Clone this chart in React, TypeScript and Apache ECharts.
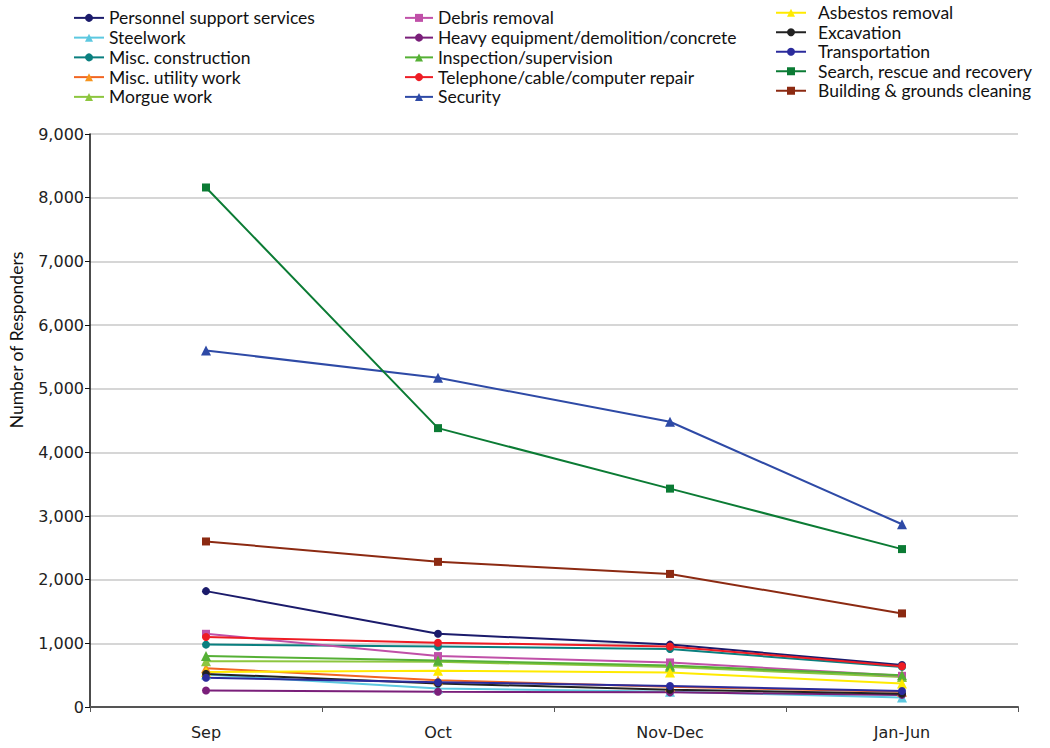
import React, { useEffect, useRef } from "react";
import * as echarts from "echarts";

const categories = ["Sep", "Oct", "Nov-Dec", "Jan-Jun"];
const yTicks = [0, 1000, 2000, 3000, 4000, 5000, 6000, 7000, 8000, 9000];

const personnel = [1820, 1150, 980, 660];
const steelwork = [510, 290, 240, 150];
const miscConstruction = [980, 950, 910, 630];
const miscUtility = [610, 420, 320, 240];
const morgue = [720, 710, 630, 470];
const debris = [1150, 800, 700, 490];
const heavy = [260, 240, 230, 190];
const inspection = [800, 730, 650, 500];
const telephone = [1100, 1010, 950, 640];
const security = [5600, 5170, 4480, 2870];
const asbestos = [550, 570, 540, 370];
const excavation = [520, 370, 270, 210];
const transportation = [460, 390, 330, 250];
const search = [8160, 4380, 3430, 2480];
const building = [2600, 2280, 2090, 1470];

const legendCol1 = ["Personnel support services", "Steelwork", "Misc. construction", "Misc. utility work", "Morgue work"];
const legendCol2 = ["Debris removal", "Heavy equipment/demolition/concrete", "Inspection/supervision", "Telephone/cable/computer repair", "Security"];
const legendCol3 = ["Asbestos removal", "Excavation", "Transportation", "Search, rescue and recovery", "Building & grounds cleaning"];

const seriesDefs = [
  { name: "Personnel support services", data: personnel, line: "#1b1b6b", fill: "#1b1b6b", symbol: "circle" },
  { name: "Steelwork", data: steelwork, line: "#5cc8e0", fill: "#5cc8e0", symbol: "triangle" },
  { name: "Misc. construction", data: miscConstruction, line: "#0a7f7f", fill: "#0a7f7f", symbol: "circle" },
  { name: "Misc. utility work", data: miscUtility, line: "#f26522", fill: "#f7941d", symbol: "triangle" },
  { name: "Morgue work", data: morgue, line: "#8dc63f", fill: "#8dc63f", symbol: "triangle" },
  { name: "Debris removal", data: debris, line: "#c050a8", fill: "#c050a8", symbol: "rect" },
  { name: "Heavy equipment/demolition/concrete", data: heavy, line: "#7a1f7a", fill: "#7a1f7a", symbol: "circle" },
  { name: "Inspection/supervision", data: inspection, line: "#55b035", fill: "#55b035", symbol: "triangle" },
  { name: "Telephone/cable/computer repair", data: telephone, line: "#ee1c24", fill: "#ee1c24", symbol: "circle" },
  { name: "Security", data: security, line: "#2e4aa6", fill: "#2e4aa6", symbol: "triangle" },
  { name: "Asbestos removal", data: asbestos, line: "#ffea00", fill: "#ffea00", symbol: "triangle" },
  { name: "Excavation", data: excavation, line: "#222222", fill: "#222222", symbol: "circle" },
  { name: "Transportation", data: transportation, line: "#2b2b9c", fill: "#2b2b9c", symbol: "circle" },
  { name: "Search, rescue and recovery", data: search, line: "#0b7b34", fill: "#0b7b34", symbol: "rect" },
  { name: "Building & grounds cleaning", data: building, line: "#8c2a12", fill: "#8c2a12", symbol: "rect" },
];

const legendFont = "Lato, 'Open Sans', sans-serif";
const axisFont = "'DejaVu Sans', Verdana, sans-serif";

export default function App() {
  const ref = useRef<HTMLDivElement>(null);
  useEffect(() => {
    if (!ref.current) return;
    const chart = echarts.init(ref.current, undefined, { renderer: "svg" });
    const legendBase = {
      orient: "vertical",
      itemHeight: 10,
      itemGap: 0,
      padding: 0,
      selectedMode: false,
    };
    chart.setOption({
      animation: false,
      backgroundColor: "#ffffff",
      legend: [
        {
          ...legendBase, data: legendCol1, left: 73, top: 8, itemWidth: 30,
          textStyle: { fontFamily: legendFont, fontSize: 17.5, color: "#111", lineHeight: 19.75 },
        },
        {
          ...legendBase, data: legendCol2, left: 404, top: 8, itemWidth: 28,
          textStyle: { fontFamily: legendFont, fontSize: 17.5, color: "#111", lineHeight: 19.75 },
        },
        {
          ...legendBase, data: legendCol3, left: 775, top: 3, itemWidth: 30,
          textStyle: { fontFamily: legendFont, fontSize: 17.5, color: "#111", lineHeight: 19.5, padding: [0, 0, 0, 7] },
        },
      ],
      grid: { left: 90, right: 32, top: 134, bottom: 41, containLabel: false },
      xAxis: {
        type: "category",
        data: categories,
        boundaryGap: true,
        axisLine: { lineStyle: { color: "#555", width: 2 } },
        axisTick: { show: true, length: 5, lineStyle: { color: "#555" } },
        axisLabel: { fontFamily: axisFont, fontSize: 16, color: "#222", margin: 17 },
        splitLine: { show: false },
      },
      yAxis: {
        type: "value",
        min: yTicks[0],
        max: yTicks[yTicks.length - 1],
        interval: 1000,
        axisLine: { show: true, lineStyle: { color: "#111", width: 1.5 } },
        axisTick: { show: true, length: 5, lineStyle: { color: "#111" } },
        axisLabel: {
          fontFamily: axisFont,
          fontSize: 16,
          color: "#222",
          margin: 6,
          formatter: (v: number) => v.toLocaleString("en-US"),
        },
        splitLine: { show: true, lineStyle: { color: "#c8c8c8", width: 1.5 } },
      },
      graphic: [
        {
          type: "text",
          x: 16,
          y: 340,
          rotation: Math.PI / 2,
          style: {
            text: "Number of Responders",
            fontFamily: legendFont,
            fontSize: 17.5,
            fill: "#111",
            textAlign: "center",
            textVerticalAlign: "middle",
          },
        },
      ],
      series: seriesDefs.map((s) => ({
        name: s.name,
        type: "line",
        data: s.data,
        symbol: s.symbol,
        symbolSize: s.symbol === "triangle" ? 10 : 8,
        lineStyle: { color: s.line, width: 2 },
        itemStyle: { color: s.fill },
      })),
    });
    return () => chart.dispose();
  }, []);
  return <div ref={ref} style={{ position: "absolute", left: 0, top: 0, width: 1050, height: 748 }} />;
}
